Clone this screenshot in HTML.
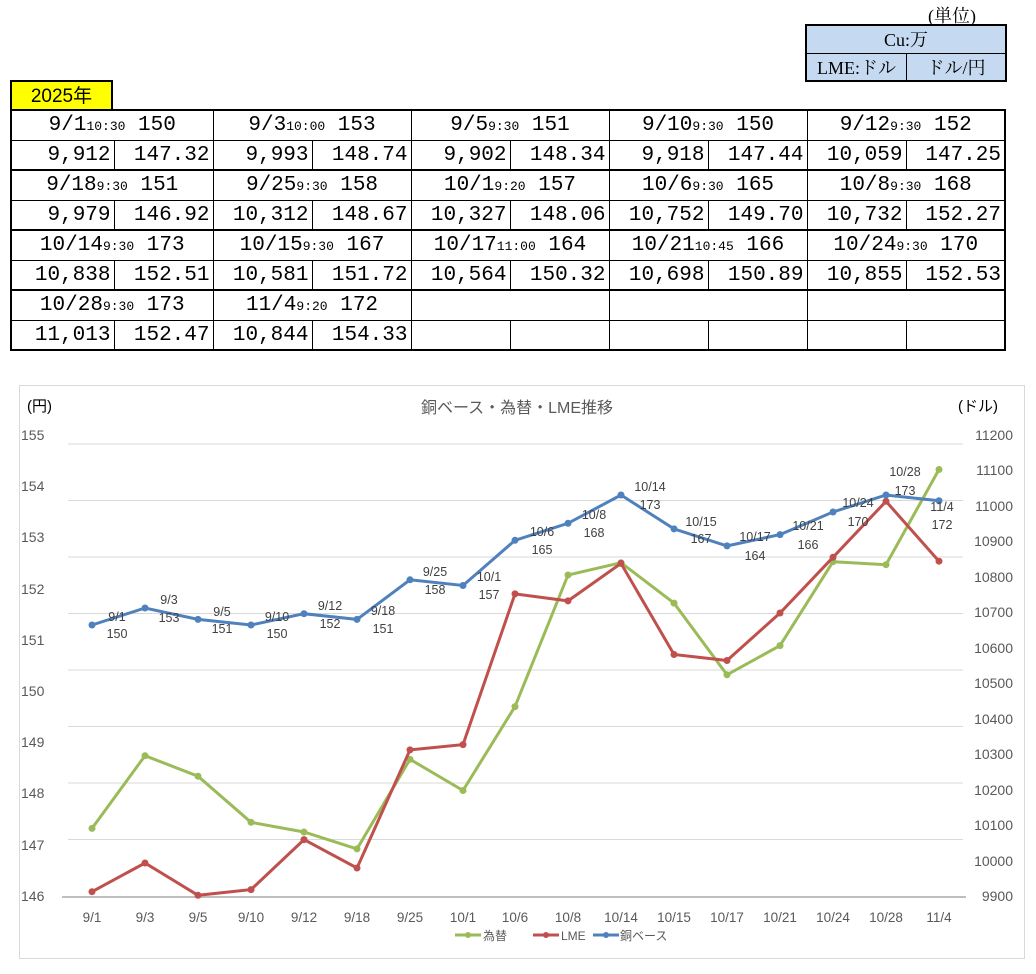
<!DOCTYPE html>
<html><head><meta charset="utf-8">
<style>
body{margin:0;width:1036px;height:974px;background:#fff;position:relative;overflow:hidden;font-family:"Liberation Sans","Noto Sans CJK JP",sans-serif}
.abs{position:absolute}
table.m{position:absolute;left:10px;top:109px;border-collapse:collapse;table-layout:fixed;width:996px}
table.m td{height:26px;padding:2px 3px 0 0;border:1px solid #000;font-family:"Liberation Mono","Noto Sans CJK JP",monospace;font-size:21px;color:#000;text-align:right;white-space:nowrap;overflow:hidden;line-height:26px;box-sizing:content-box}
table.m td.h{text-align:center;border-top:2px solid #000;padding:2px 0 0 0}
table.m td.d{border-bottom:2px solid #000}
table.m small{font-size:13px}
table.m{border:2px solid #000}
.u{position:absolute;left:805px;top:24px;width:198px;height:54px;border:2px solid #000;background:#c5d9f1;font-family:"Liberation Serif","Noto Serif CJK JP",serif;font-size:18px}
</style></head><body>
<div class="abs" style="left:928px;top:2px;font-family:'Liberation Serif','Noto Serif CJK JP',serif;font-size:18px">(単位)</div>
<div class="u">
<div style="position:absolute;left:0;top:0;width:198px;height:27px;border-bottom:1px solid #000;text-align:center;line-height:29px">Cu:万</div>
<div style="position:absolute;left:0;top:28px;width:99px;height:26px;border-right:1px solid #000;text-align:center;line-height:28px">LME:ドル</div>
<div style="position:absolute;left:100px;top:28px;width:98px;height:26px;text-align:center;line-height:28px">ドル/円</div>
</div>
<div class="abs" style="left:10px;top:80px;width:99px;height:27px;background:#ffff00;border:2px solid #000;border-bottom:none;font-size:19px;text-align:center;line-height:30px">2025年</div>
<table class="m">
<colgroup><col style="width:103px"><col><col><col><col><col><col><col><col><col></colgroup>
<tr><td class="h" colspan="2">9/1<small>10:30</small> 150</td><td class="h" colspan="2">9/3<small>10:00</small> 153</td><td class="h" colspan="2">9/5<small>9:30</small> 151</td><td class="h" colspan="2">9/10<small>9:30</small> 150</td><td class="h" colspan="2">9/12<small>9:30</small> 152</td></tr>
<tr><td class="d">9,912</td><td class="d">147.32</td><td class="d">9,993</td><td class="d">148.74</td><td class="d">9,902</td><td class="d">148.34</td><td class="d">9,918</td><td class="d">147.44</td><td class="d">10,059</td><td class="d">147.25</td></tr>
<tr><td class="h" colspan="2">9/18<small>9:30</small> 151</td><td class="h" colspan="2">9/25<small>9:30</small> 158</td><td class="h" colspan="2">10/1<small>9:20</small> 157</td><td class="h" colspan="2">10/6<small>9:30</small> 165</td><td class="h" colspan="2">10/8<small>9:30</small> 168</td></tr>
<tr><td class="d">9,979</td><td class="d">146.92</td><td class="d">10,312</td><td class="d">148.67</td><td class="d">10,327</td><td class="d">148.06</td><td class="d">10,752</td><td class="d">149.70</td><td class="d">10,732</td><td class="d">152.27</td></tr>
<tr><td class="h" colspan="2">10/14<small>9:30</small> 173</td><td class="h" colspan="2">10/15<small>9:30</small> 167</td><td class="h" colspan="2">10/17<small>11:00</small> 164</td><td class="h" colspan="2">10/21<small>10:45</small> 166</td><td class="h" colspan="2">10/24<small>9:30</small> 170</td></tr>
<tr><td class="d">10,838</td><td class="d">152.51</td><td class="d">10,581</td><td class="d">151.72</td><td class="d">10,564</td><td class="d">150.32</td><td class="d">10,698</td><td class="d">150.89</td><td class="d">10,855</td><td class="d">152.53</td></tr>
<tr><td class="h" colspan="2">10/28<small>9:30</small> 173</td><td class="h" colspan="2">11/4<small>9:20</small> 172</td><td class="h" colspan="2"></td><td class="h" colspan="2"></td><td class="h" colspan="2"></td></tr>
<tr><td>11,013</td><td>152.47</td><td>10,844</td><td>154.33</td><td></td><td></td><td></td><td></td><td></td><td></td></tr>
</table>

<svg class="abs" style="left:0;top:0" width="1036" height="974" xmlns="http://www.w3.org/2000/svg" font-family="Liberation Sans, Noto Sans CJK JP, sans-serif">
<rect x="19.5" y="385.5" width="1005" height="573" fill="none" stroke="#d9d9d9"/>
<g stroke="#d9d9d9" stroke-width="1">
<line x1="68" x2="963" y1="444" y2="444"/><line x1="68" x2="963" y1="500.5" y2="500.5"/><line x1="68" x2="963" y1="557" y2="557"/><line x1="68" x2="963" y1="613.5" y2="613.5"/><line x1="68" x2="963" y1="670" y2="670"/><line x1="68" x2="963" y1="726.5" y2="726.5"/><line x1="68" x2="963" y1="783" y2="783"/><line x1="68" x2="963" y1="839.5" y2="839.5"/>
</g>
<line x1="62" x2="966" y1="897" y2="897" stroke="#bfbfbf" stroke-width="2"/>
<text x="517" y="413" text-anchor="middle" font-size="16" fill="#595959">銅ベース・為替・LME推移</text>
<text x="27" y="411" font-size="15" fill="#000">(円)</text>
<text x="958" y="411" font-size="15" fill="#000">(ドル)</text>
<g font-size="14" fill="#595959" text-anchor="start">
<text x="21" y="440">155</text><text x="21" y="491">154</text><text x="21" y="542">153</text><text x="21" y="594">152</text><text x="21" y="645">151</text><text x="21" y="696">150</text><text x="21" y="747">149</text><text x="21" y="798">148</text><text x="21" y="850">147</text><text x="21" y="901">146</text>
</g>
<g font-size="14" fill="#595959" text-anchor="end">
<text x="1013" y="440">11200</text><text x="1013" y="475">11100</text><text x="1013" y="511">11000</text><text x="1013" y="546">10900</text><text x="1013" y="582">10800</text><text x="1013" y="617">10700</text><text x="1013" y="653">10600</text><text x="1013" y="688">10500</text><text x="1013" y="724">10400</text><text x="1013" y="759">10300</text><text x="1013" y="795">10200</text><text x="1013" y="830">10100</text><text x="1013" y="866">10000</text><text x="1013" y="901">9900</text>
</g>
<g font-size="13.5" fill="#595959" text-anchor="middle">
<text x="92" y="922">9/1</text><text x="145" y="922">9/3</text><text x="198" y="922">9/5</text><text x="251" y="922">9/10</text><text x="304" y="922">9/12</text><text x="357" y="922">9/18</text><text x="410" y="922">9/25</text><text x="463" y="922">10/1</text><text x="515" y="922">10/6</text><text x="568" y="922">10/8</text><text x="621" y="922">10/14</text><text x="674" y="922">10/15</text><text x="727" y="922">10/17</text><text x="780" y="922">10/21</text><text x="833" y="922">10/24</text><text x="886" y="922">10/28</text><text x="939" y="922">11/4</text>
</g>
<polyline fill="none" stroke="#9bbb59" stroke-width="3" points="92,828.4 145,755.7 198,776.2 251,822.3 304,832 357,848.9 410,759.3 463,790.5 515,706.6 568,575 621,562.7 674,603.1 727,674.8 780,645.6 833,561.7 886,564.7 939,469.5"/>
<g fill="#9bbb59"><circle cx="92" cy="828.4" r="3.5"/><circle cx="145" cy="755.7" r="3.5"/><circle cx="198" cy="776.2" r="3.5"/><circle cx="251" cy="822.3" r="3.5"/><circle cx="304" cy="832" r="3.5"/><circle cx="357" cy="848.9" r="3.5"/><circle cx="410" cy="759.3" r="3.5"/><circle cx="463" cy="790.5" r="3.5"/><circle cx="515" cy="706.6" r="3.5"/><circle cx="568" cy="575" r="3.5"/><circle cx="621" cy="562.7" r="3.5"/><circle cx="674" cy="603.1" r="3.5"/><circle cx="727" cy="674.8" r="3.5"/><circle cx="780" cy="645.6" r="3.5"/><circle cx="833" cy="561.7" r="3.5"/><circle cx="886" cy="564.7" r="3.5"/><circle cx="939" cy="469.5" r="3.5"/></g>
<polyline fill="none" stroke="#c0504d" stroke-width="3" points="92,891.7 145,863 198,895.3 251,889.6 304,839.6 357,868 410,749.9 463,744.6 515,593.9 568,600.9 621,563.4 674,654.5 727,660.5 780,613 833,557.3 886,501.3 939,561.2"/>
<g fill="#c0504d"><circle cx="92" cy="891.7" r="3.5"/><circle cx="145" cy="863" r="3.5"/><circle cx="198" cy="895.3" r="3.5"/><circle cx="251" cy="889.6" r="3.5"/><circle cx="304" cy="839.6" r="3.5"/><circle cx="357" cy="868" r="3.5"/><circle cx="410" cy="749.9" r="3.5"/><circle cx="463" cy="744.6" r="3.5"/><circle cx="515" cy="593.9" r="3.5"/><circle cx="568" cy="600.9" r="3.5"/><circle cx="621" cy="563.4" r="3.5"/><circle cx="674" cy="654.5" r="3.5"/><circle cx="727" cy="660.5" r="3.5"/><circle cx="780" cy="613" r="3.5"/><circle cx="833" cy="557.3" r="3.5"/><circle cx="886" cy="501.3" r="3.5"/><circle cx="939" cy="561.2" r="3.5"/></g>
<polyline fill="none" stroke="#4f81bd" stroke-width="3" points="92,625 145,608 198,619.4 251,625 304,613.7 357,619.4 410,579.8 463,585.5 515,540.3 568,523.3 621,495 674,528.9 727,545.9 780,534.6 833,512 886,495 939,500.7"/>
<g fill="#4f81bd"><circle cx="92" cy="625" r="3.5"/><circle cx="145" cy="608" r="3.5"/><circle cx="198" cy="619.4" r="3.5"/><circle cx="251" cy="625" r="3.5"/><circle cx="304" cy="613.7" r="3.5"/><circle cx="357" cy="619.4" r="3.5"/><circle cx="410" cy="579.8" r="3.5"/><circle cx="463" cy="585.5" r="3.5"/><circle cx="515" cy="540.3" r="3.5"/><circle cx="568" cy="523.3" r="3.5"/><circle cx="621" cy="495" r="3.5"/><circle cx="674" cy="528.9" r="3.5"/><circle cx="727" cy="545.9" r="3.5"/><circle cx="780" cy="534.6" r="3.5"/><circle cx="833" cy="512" r="3.5"/><circle cx="886" cy="495" r="3.5"/><circle cx="939" cy="500.7" r="3.5"/></g>
<g font-size="12.5" fill="#404040" text-anchor="middle">
<text x="117" y="621">9/1</text><text x="117" y="638">150</text>
<text x="169" y="604">9/3</text><text x="169" y="622">153</text>
<text x="222" y="616">9/5</text><text x="222" y="633">151</text>
<text x="277" y="621">9/10</text><text x="277" y="638">150</text>
<text x="330" y="610">9/12</text><text x="330" y="628">152</text>
<text x="383" y="615">9/18</text><text x="383" y="633">151</text>
<text x="435" y="576">9/25</text><text x="435" y="594">158</text>
<text x="489" y="581">10/1</text><text x="489" y="599">157</text>
<text x="542" y="536">10/6</text><text x="542" y="554">165</text>
<text x="594" y="519">10/8</text><text x="594" y="537">168</text>
<text x="650" y="491">10/14</text><text x="650" y="509">173</text>
<text x="701" y="526">10/15</text><text x="701" y="543">167</text>
<text x="755" y="541">10/17</text><text x="755" y="560">164</text>
<text x="808" y="530">10/21</text><text x="808" y="549">166</text>
<text x="858" y="507">10/24</text><text x="858" y="526">170</text>
<text x="905" y="476">10/28</text><text x="905" y="495">173</text>
<text x="942" y="511">11/4</text><text x="942" y="529">172</text>
</g>
<g font-size="12" fill="#595959">
<line x1="455" x2="481" y1="935" y2="935" stroke="#9bbb59" stroke-width="3"/><circle cx="468" cy="935" r="3" fill="#9bbb59"/><text x="483" y="940">為替</text>
<line x1="533" x2="559" y1="935" y2="935" stroke="#c0504d" stroke-width="3"/><circle cx="546" cy="935" r="3" fill="#c0504d"/><text x="561" y="940">LME</text>
<line x1="593" x2="619" y1="935" y2="935" stroke="#4f81bd" stroke-width="3"/><circle cx="606" cy="935" r="3" fill="#4f81bd"/><text x="620" y="940">銅ベース</text>
</g>
</svg>
</body></html>
